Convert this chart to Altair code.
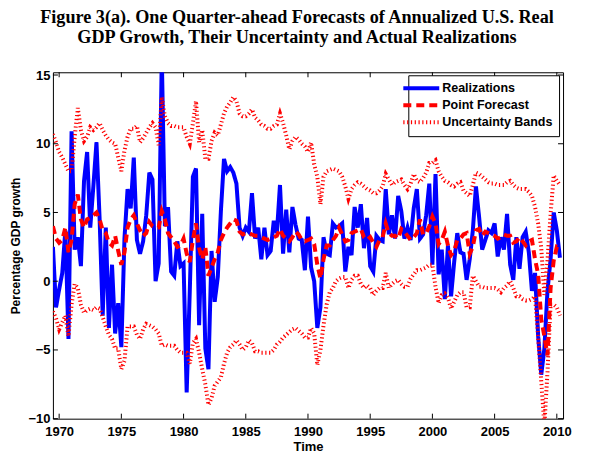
import altair as alt
import pandas as pd

# ---------------- data (quarterly, first point = 1969 Q3) ----------------
first_year, first_quarter = 1969, 3

realizations = [
    2.5, -1.9,
    -0.6, 0.6, 3.7, -4.2,
    10.9, 2.3, 3.2, 1.1,
    7.3, 9.4, 3.9, 6.9,
    10.1, 4.6, -2.5, 3.9,
    -3.4, 1.2, -3.8, -1.6,
    -4.8, 3.1, 6.7, 5.3,
    9.0, 3.0, 2.0, 2.9,
    4.8, 7.9, 7.4, 0.0,
    1.3, 16.4, 4.0, 5.4,
    0.7, 0.4, 2.9, 1.1,
    1.3, -8.1, -0.7, 7.6,
    8.2, -3.2, 4.9, -4.9,
    -6.4, 2.2, -1.5, 0.3,
    5.1, 8.9, 8.0, 8.3,
    7.9, 7.1, 3.9, 3.3,
    3.9, 3.6, 6.4, 3.1,
    3.9, 1.6, 3.9, 1.9,
    2.2, 4.4, 3.5, 7.0,
    2.0, 5.2, 2.1, 5.4,
    4.1, 3.1, 3.0, 0.8,
    4.7, 1.0, 0.0, -3.4,
    -1.9, 3.2, 2.0, 1.9,
    4.2, 3.9, 4.0, 4.2,
    0.7, 2.5, 1.9, 5.4,
    3.9, 5.6, 2.4, 4.6,
    1.1, 0.7, 3.3, 3.0,
    2.9, 6.7, 3.4, 4.8,
    3.1, 6.2, 5.1, 3.1,
    3.9, 3.0, 5.3, 6.7,
    3.1, 3.4, 4.8, 7.1,
    1.2, 7.8, 0.5, 2.3,
    -1.3, 2.6, -1.1, 1.4,
    3.5, 2.1, 2.0, 0.1,
    1.6, 3.7, 6.9, 4.7,
    2.3, 3.0, 3.7, 3.5,
    4.2, 1.8, 3.2, 2.3,
    4.9, 1.2, 0.1, 3.2,
    0.9, 3.2, 3.6, 2.1,
    -0.7, 0.6, -4.0, -6.8,
    -4.9, -0.7, 1.6, 5.0,
    3.7, 1.7,
]

point_forecast = [
    4.0, 3.1,
    2.8, 3.0, 3.9, 2.1,
    3.0, 5.6, 6.3, 4.5,
    3.9, 4.5, 4.6, 4.8,
    5.0, 4.5, 3.7, 3.5,
    2.8, 2.6, 3.3, 2.2,
    1.2, 2.1, 3.9, 4.5,
    4.8, 4.2, 3.7, 3.3,
    3.5, 4.3, 4.0, 3.9,
    3.9, 5.1, 4.5, 3.5,
    3.2, 2.9, 2.5, 2.6,
    3.1, 2.0, 1.4, 3.0,
    4.2, 2.4, 1.6, 2.5,
    0.4, 1.0, 1.6, 2.1,
    3.0, 3.5, 3.9, 4.2,
    4.5, 4.4, 3.6, 3.4,
    3.5, 3.5, 3.4, 3.3,
    3.3, 3.2, 3.1, 3.0,
    3.1, 3.2, 3.3, 3.8,
    3.3, 3.1, 2.9, 3.2,
    3.6, 3.4, 3.0, 2.9,
    3.0, 3.1, 2.7, 1.2,
    0.2, 1.6, 2.6, 2.6,
    3.0, 3.3, 3.9, 3.4,
    2.9, 3.0, 3.5, 3.6,
    3.7, 3.8, 3.2, 3.0,
    3.2, 2.8, 2.5, 3.0,
    3.2, 4.2, 3.5, 3.3,
    3.3, 3.1, 3.8, 3.6,
    3.3, 3.0, 3.2, 3.5,
    4.5, 3.4, 3.5, 4.0,
    4.7, 4.2, 2.7, 3.0,
    3.6, 2.6, 1.9, 2.2,
    3.0, 3.1, 3.4, 3.5,
    2.0, 2.5, 3.7, 3.8,
    3.3, 3.6, 3.5, 3.4,
    3.3, 3.1, 3.2, 3.4,
    3.3, 3.3, 2.8, 2.9,
    3.2, 2.9, 2.6, 2.9,
    3.0, 1.6, 0.5, -2.8,
    -4.0, -5.4, -0.5, 1.5,
    2.5, 2.4,
]

upper_band = [
    10.7, 10.1,
    9.4, 9.0, 8.5, 8.0,
    8.0, 10.5, 12.6, 11.0,
    10.2, 10.5, 11.2, 11.0,
    11.2, 11.5, 11.0, 10.6,
    10.3, 10.1, 10.0, 9.0,
    8.0, 9.5, 10.5, 11.1,
    11.1, 11.3, 10.1, 10.4,
    10.8, 11.2, 11.5, 11.2,
    9.9, 13.4, 12.0, 11.5,
    11.3, 11.3, 11.2, 11.2,
    11.2, 10.5, 10.0, 11.5,
    13.1, 10.1, 11.0, 8.9,
    8.9, 10.2, 10.8, 10.6,
    11.4, 12.2, 12.7, 13.0,
    13.4, 13.1, 12.2, 12.0,
    12.0, 12.2, 12.5, 11.9,
    11.7, 11.4, 11.3, 11.1,
    11.1, 11.3, 11.4, 12.2,
    11.5, 10.6, 9.6, 10.2,
    10.5, 10.3, 10.0, 9.8,
    9.4, 10.1, 8.5, 7.6,
    5.6, 7.6, 8.0, 8.1,
    8.2, 8.1, 8.0, 7.6,
    6.9, 6.0, 6.7, 7.0,
    7.2, 7.1, 6.9, 6.7,
    6.6, 6.4, 6.4, 6.6,
    6.9, 7.8, 7.4, 7.0,
    7.2, 7.3, 7.4, 7.0,
    6.7, 7.1, 7.8, 7.3,
    7.2, 7.5, 7.9, 8.6,
    8.6, 8.8, 8.0, 7.6,
    7.3, 7.2, 7.0, 6.9,
    7.1, 7.2, 6.6, 6.4,
    6.2, 7.0, 7.9, 7.8,
    7.6, 7.4, 7.2, 7.1,
    7.1, 7.0, 7.0, 7.0,
    7.2, 7.3, 7.0, 6.8,
    6.7, 6.7, 6.7, 6.5,
    6.2, 5.4, 4.2, 2.4,
    -1.0, 1.5, 4.9, 7.7,
    7.3, 7.0,
]

lower_band = [
    -2.2, -2.7,
    -3.5, -3.0, -2.5, -4.0,
    -1.7, -0.2, -0.5, -1.7,
    -2.3, -2.1, -2.0, -2.1,
    -1.9, -2.0, -2.6, -3.3,
    -3.9, -4.2, -4.9, -4.9,
    -6.4, -5.8, -3.3, -3.3,
    -3.3, -3.9, -4.2, -3.5,
    -3.1, -3.2, -3.3, -3.5,
    -3.8, -4.7, -4.6, -4.7,
    -4.7, -4.7, -5.0, -5.2,
    -5.2, -5.2, -6.0, -4.5,
    -4.2, -5.2, -6.4, -7.5,
    -9.0, -8.5, -7.6, -7.3,
    -7.0, -6.0, -5.2, -4.8,
    -4.6, -4.3, -4.6, -5.0,
    -4.8, -4.3, -4.5, -5.1,
    -5.1, -5.2, -5.2, -5.2,
    -5.2, -5.0, -4.6, -4.4,
    -4.1, -3.9, -3.7, -3.5,
    -3.4, -3.6, -3.8, -4.1,
    -4.1, -3.4, -3.8, -6.1,
    -5.0, -3.2, -1.7, -0.8,
    -0.5, 0.0, 0.2, 0.3,
    0.3, -0.5, 0.1, 0.4,
    0.4, -0.2, -0.5, -0.3,
    -0.5, -1.0, -0.7, -0.5,
    -0.5, 0.6, -0.5, -0.2,
    0.0, 0.1, -0.2, -0.4,
    -0.4, 0.2, 0.5, 0.8,
    0.8, 0.9, 1.0, 1.2,
    1.2, -0.4, -1.6, -1.0,
    -0.9, -1.2, -2.0, -1.5,
    -1.0, -0.8, -0.8, -1.9,
    -1.9, 0.4, 0.0, -0.4,
    -0.4, -0.5, -0.5, -0.5,
    -0.5, -0.6, -0.8, -0.5,
    -0.3, 0.0, -0.5, -1.1,
    -1.1, -1.3, -1.4, -1.4,
    -1.3, -1.1, -4.1, -7.3,
    -10.5, -6.6, -1.7, -1.7,
    -1.9, -2.5,
]

series_names = ["Realizations", "Point Forecast", "Uncertainty Bands"]
x_ticks = [1970, 1975, 1980, 1985, 1990, 1995, 2000, 2005, 2010]
y_ticks = [-10, -5, 0, 5, 10, 15]
x_domain = [1969.5, 2010.5]
y_domain = [-10, 15.2]
title_lines = [
    "Figure 3(a). One Quarter-ahead Forecasts of Annualized U.S. Real",
    "GDP Growth, Their Uncertainty and Actual Realizations",
]

# ---------------- long table ----------------
n = len(realizations)
time = [first_year + (first_quarter - 1 + i) / 4 for i in range(n)]
rows = []
for t, r, f, u, l in zip(time, realizations, point_forecast, upper_band, lower_band):
    rows.append({"time": t, "value": r, "series": "Realizations", "line": "real"})
    rows.append({"time": t, "value": f, "series": "Point Forecast", "line": "fc"})
    rows.append({"time": t, "value": u, "series": "Uncertainty Bands", "line": "up"})
    rows.append({"time": t, "value": l, "series": "Uncertainty Bands", "line": "lo"})
df = pd.DataFrame(rows)

W, H = 511, 347
SANS = "Liberation Sans"
xscale = alt.Scale(domain=x_domain, nice=False, zero=False)
yscale = alt.Scale(domain=y_domain, nice=False, zero=False)

legend = alt.Legend(
    title=None, orient="none", legendX=356, legendY=3,
    fillColor="white", strokeColor="black", padding=6,
    symbolType="M-3.6,0L3.6,0", symbolSize=100,
    labelFont=SANS, labelFontSize=12.5, labelFontWeight="bold", labelColor="black",
    labelOffset=14, rowPadding=1,
)

x_axis = alt.Axis(values=x_ticks, format="d", title="Time", ticks=False, domain=False,
                  grid=False, labelFont=SANS, labelFontSize=13, labelFontWeight="bold",
                  labelColor="black", labelPadding=7, titleFont=SANS, titleFontSize=13,
                  titleFontWeight="bold", titleColor="black", titlePadding=2)
y_axis = alt.Axis(values=y_ticks, title="Percentage GDP growth", ticks=False, domain=False,
                  grid=False, labelFont=SANS, labelFontSize=13, labelFontWeight="bold",
                  labelColor="black", labelPadding=3, titleFont=SANS, titleFontSize=12,
                  titleFontWeight="bold", titleColor="black", titlePadding=5)

X = alt.X("time:Q", scale=xscale, axis=x_axis)
Y = alt.Y("value:Q", scale=yscale, axis=y_axis)

enc = dict(
    x=X, y=Y,
    color=alt.Color("series:N", scale=alt.Scale(domain=series_names,
                    range=["#0000ff", "#ff0000", "#ff0000"]), legend=legend),
    strokeDash=alt.StrokeDash("series:N", scale=alt.Scale(domain=series_names,
                    range=[[1, 0], [8, 5], [1.2, 2.6]]), legend=legend),
    strokeWidth=alt.StrokeWidth("series:N", scale=alt.Scale(domain=series_names,
                    range=[4, 4, 2.2]), legend=legend),
    detail="line:N",
)

base = alt.Chart(df)
layers = []
for name in series_names:
    layers.append(base.transform_filter(alt.datum.series == name)
                  .mark_line(clip=True).encode(**enc))

# inward tick marks on all four sides (MATLAB style)
xt = pd.DataFrame({"time": x_ticks})
yt = pd.DataFrame({"value": y_ticks})
tick_style = dict(color="black", strokeWidth=1)
layers.append(alt.Chart(xt).mark_rule(**tick_style).encode(
    x=X, y=alt.value(H), y2=alt.value(H - 5)))
layers.append(alt.Chart(xt).mark_rule(**tick_style).encode(
    x=X, y=alt.value(0), y2=alt.value(5)))
layers.append(alt.Chart(yt).mark_rule(**tick_style).encode(
    y=Y, x=alt.value(0), x2=alt.value(5)))
layers.append(alt.Chart(yt).mark_rule(**tick_style).encode(
    y=Y, x=alt.value(W), x2=alt.value(W - 5)))

chart = alt.layer(*layers).properties(
    width=W, height=H,
    title=alt.TitleParams(text=title_lines, font="Liberation Serif", fontSize=18.2,
                          fontWeight="bold", color="black", anchor="middle",
                          lineHeight=20, dx=-11, offset=22),
    autosize=alt.AutoSizeParams(type="none"),
    padding={"left": 45, "top": 64, "right": 24, "bottom": 35},
).configure(background="white").configure_view(stroke="black", strokeWidth=1)

chart.save("out.html", embed_options={"renderer": "svg", "actions": False})
